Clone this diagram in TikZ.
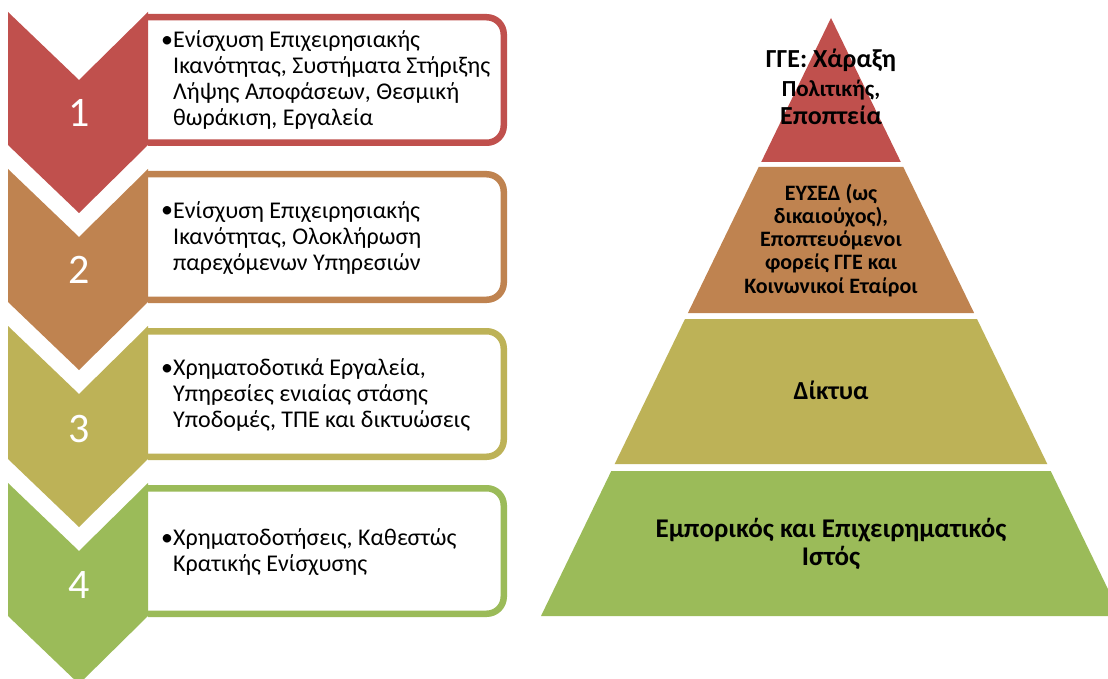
\documentclass[tikz,border=0pt]{standalone}
\usepackage{fontspec}
\setmainfont{Carlito}
\definecolor{cA}{HTML}{C0504D}
\definecolor{cB}{HTML}{BF8350}
\definecolor{cC}{HTML}{BDB257}
\definecolor{cD}{HTML}{9BBB59}
\tikzset{
  chev/.style={fill=#1, draw=none},
  card/.style={draw=#1, line width=6.5pt, fill=white},
  num/.style={text=white, anchor=base, inner sep=0pt, font=\fontsize{42}{42}\selectfont},
  bul/.style={anchor=base west, inner sep=0pt, font=\fontsize{24}{26}\selectfont},
  cardtext/.style={anchor=base west, align=left, inner sep=0pt, font=\fontsize{24}{26}\selectfont},
  layer/.style={fill=#1, draw=none},
  ptext/.style={anchor=base, align=center, inner sep=0pt, text=black}
}
\begin{document}
\begin{tikzpicture}[x=1pt,y=-1pt]
\useasboundingbox (0,0) rectangle (1108,679);
\clip (0,0) rectangle (1108,679);
\fill[white] (0,0) rectangle (1108,679);

% ---- cards (square on the left, where they meet the chevrons)
\foreach \t/\c in {12/cA,169/cB,326/cC,483/cD}{
  \filldraw[card=\c, rounded corners=17pt] (148,\t+5.25) -- (503.75,\t+5.25) -- (503.75,\t+130.75) -- (148,\t+130.75);
}
% ---- chevrons
\foreach \t/\c in {12/cA,169/cB,326/cC,483/cD}{
  \fill[chev=\c] (8,\t) -- (79,\t+68) -- (148,\t) -- (148,\t+133) -- (79,\t+201) -- (8,\t+133) -- cycle;
}
\node[num] (n1) at (79,127) {1};
\node[num] (n2) at (79,283) {2};
\node[num] (n3) at (79,442) {3};
\node[num] (n4) at (79,598) {4};

% text nodes: base anchor = baseline of the last line
\node[bul] (b1) at (161,48) {•};
\node[cardtext] (t1) at (173,126) {Ενίσχυση Επιχειρησιακής\\Ικανότητας, Συστήματα Στήριξης\\Λήψης Αποφάσεων, Θεσμική\\θωράκιση, Εργαλεία};
\node[bul] (b2) at (161,218) {•};
\node[cardtext] (t2) at (173,270) {Ενίσχυση Επιχειρησιακής\\Ικανότητας, Ολοκλήρωση\\παρεχόμενων Υπηρεσιών};
\node[bul] (b3) at (161,375) {•};
\node[cardtext] (t3) at (173,427) {Χρηματοδοτικά Εργαλεία,\\Υπηρεσίες ενιαίας στάσης\\Υποδομές, ΤΠΕ και δικτυώσεις};
\node[bul] (b4) at (161,545) {•};
\node[cardtext] (t4) at (173,571) {Χρηματοδοτήσεις, Καθεστώς\\Κρατικής Ενίσχυσης};

% ---- pyramid
\fill[layer=cA] (831,18) -- (900.8,162) -- (761.2,162) -- cycle;
\fill[layer=cB] (758.7,167) -- (903.3,167) -- (974.1,313) -- (687.9,313) -- cycle;
\fill[layer=cC] (685.0,319) -- (977.0,319) -- (1047.3,464) -- (614.7,464) -- cycle;
\fill[layer=cD] (611.3,471) -- (1050.7,471) -- (1121.0,616) -- (541.0,616) -- cycle;

\node[ptext, font=\bfseries\fontsize{26}{28.5}\selectfont] (p1) at (831,125)
  {ΓΓΕ: Χάραξη\\{\fontsize{23}{24}\selectfont Πολιτικής,}\\Εποπτεία};
\node[ptext, font=\bfseries\fontsize{22}{23.3}\selectfont] (p2) at (831,293.2)
  {ΕΥΣΕΔ (ως\\δικαιούχος),\\Εποπτευόμενοι\\φορείς ΓΓΕ και\\Κοινωνικοί Εταίροι};
\node[ptext, font=\bfseries\fontsize{26}{28}\selectfont] (p3) at (831,399) {Δίκτυα};
\node[ptext, font=\bfseries\fontsize{27}{28}\selectfont] (p4) at (831,565)
  {Εμπορικός και Επιχειρηματικός\\Ιστός};
\end{tikzpicture}
\end{document}
